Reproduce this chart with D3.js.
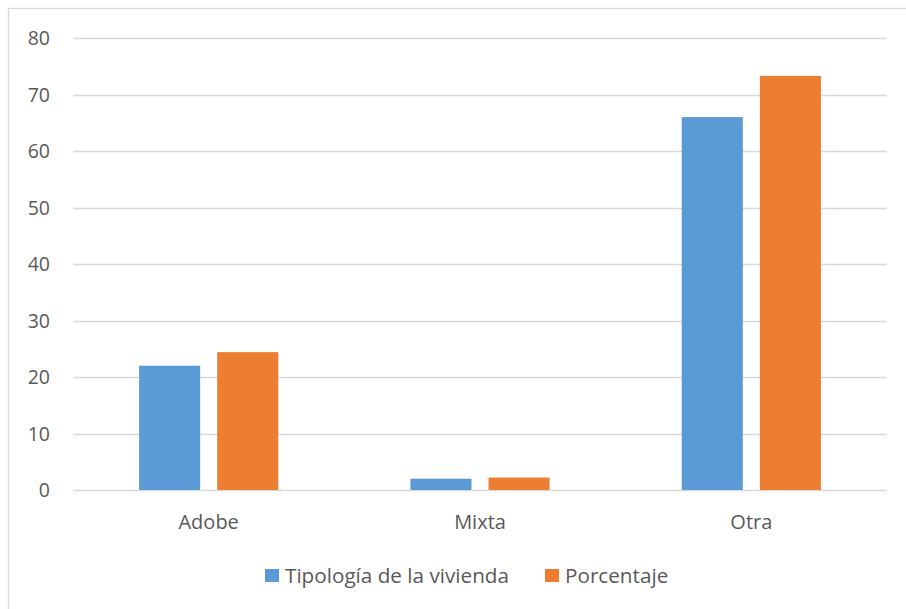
<!DOCTYPE html>
<html>
<head>
<meta charset="utf-8">
<script src="https://cdn.jsdelivr.net/npm/d3@7"></script>
<style>
  body { margin: 0; background: #fff; overflow: hidden; }
  text { font-family: "Open Sans", "Liberation Sans", sans-serif; fill: #595959; }
</style>
</head>
<body>
<div id="chart"></div>
<script>
// ── Data ─────────────────────────────────────────────────────────
const categories = ['Adobe', 'Mixta', 'Otra'];
const seriesNames = ['Tipología de la vivienda', 'Porcentaje'];
const tipologia = [22, 2, 66];
const porcentaje = [24.4, 2.2, 73.3];
const yTicks = [0, 10, 20, 30, 40, 50, 60, 70, 80];
const colors = ['#5b9bd5', '#ed7d31'];

const W = 906, H = 609;
const margin = { left: 73, right: 19, top: 38, bottom: 119 };

const svg = d3.select('#chart').append('svg')
  .attr('width', W).attr('height', H)
  .style('display', 'block');

// outer frame (right/bottom edges fall outside the picture)
svg.append('rect')
  .attr('x', 8.5).attr('y', 8.5)
  .attr('width', W + 20).attr('height', H + 20)
  .attr('fill', '#fff').attr('stroke', '#d9d9d9').attr('stroke-width', 1.3);

const x = d3.scaleBand()
  .domain(categories)
  .range([margin.left, W - margin.right]);

const y = d3.scaleLinear()
  .domain([0, 80])
  .range([H - margin.bottom, margin.top]);

const inner = d3.scaleBand()
  .domain(seriesNames)
  .range([0, x.bandwidth()])
  .paddingInner(0.218)
  .paddingOuter(0.846);

// gridlines
svg.append('g')
  .selectAll('line')
  .data(yTicks)
  .join('line')
  .attr('x1', margin.left).attr('x2', W - margin.right)
  .attr('y1', d => Math.round(y(d)) + 0.5).attr('y2', d => Math.round(y(d)) + 0.5)
  .attr('stroke', '#d9d9d9').attr('stroke-width', 1.3);

// y labels
svg.append('g')
  .selectAll('text')
  .data(yTicks)
  .join('text')
  .attr('x', 50).attr('y', d => y(d))
  .attr('dy', '0.36em')
  .attr('text-anchor', 'end')
  .attr('font-size', 19.5)
  .text(d => d);

// bars
const series = [tipologia, porcentaje];
series.forEach((vals, si) => {
  svg.append('g')
    .selectAll('rect')
    .data(vals)
    .join('rect')
    .attr('x', (d, i) => x(categories[i]) + inner(seriesNames[si]))
    .attr('y', d => y(d))
    .attr('width', inner.bandwidth())
    .attr('height', d => y(0) - y(d))
    .attr('fill', colors[si]);
});

// category labels
svg.append('g')
  .selectAll('text')
  .data(categories)
  .join('text')
  .attr('x', d => x(d) + x.bandwidth() / 2)
  .attr('y', 529)
  .attr('text-anchor', 'middle')
  .attr('font-size', 20)
  .text(d => d);

// legend
const legendItems = [
  { name: seriesNames[0], color: colors[0], x: 265 },
  { name: seriesNames[1], color: colors[1], x: 545 },
];
const lg = svg.append('g').selectAll('g')
  .data(legendItems)
  .join('g')
  .attr('transform', d => `translate(${d.x},569)`);
lg.append('rect')
  .attr('width', 14).attr('height', 13)
  .attr('fill', d => d.color);
lg.append('text')
  .attr('x', 20).attr('y', 13.5)
  .attr('font-size', 20.7)
  .text(d => d.name);
</script>
</body>
</html>
